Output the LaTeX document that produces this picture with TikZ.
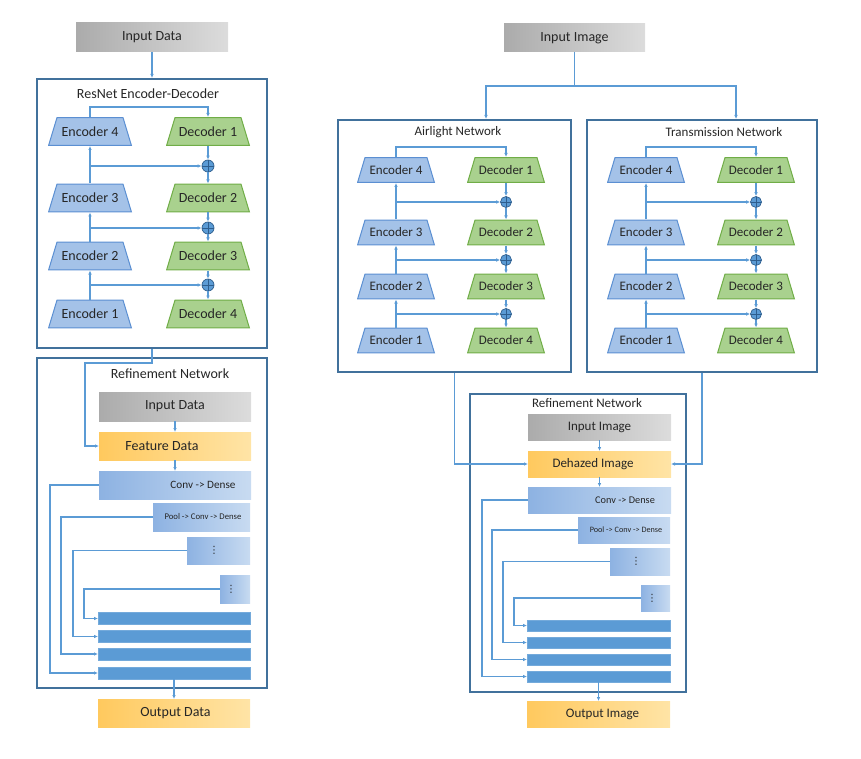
\documentclass[tikz,border=0pt]{standalone}
\usepackage{fontspec}
\setmainfont{Carlito}
\newfontfamily\dejavu{DejaVu Sans}
\usetikzlibrary{arrows.meta}
\definecolor{lineblue}{HTML}{5B9BD5}
\definecolor{framecol}{HTML}{41719C}
\definecolor{encfill}{HTML}{A4C2E8}
\definecolor{encdraw}{HTML}{5B8FD2}
\definecolor{decfill}{HTML}{A9D18E}
\definecolor{decdraw}{HTML}{70AD47}
\definecolor{graydk}{HTML}{ABABAB}
\definecolor{graylt}{HTML}{DCDCDC}
\definecolor{orgdk}{HTML}{FFC95E}
\definecolor{orglt}{HTML}{FFE4A6}
\definecolor{convdk}{HTML}{8DB2E2}
\definecolor{convlt}{HTML}{C8DBF1}
\definecolor{barcol}{HTML}{5B9BD5}
\definecolor{plusfill}{HTML}{5B9BD5}
\definecolor{plusdraw}{HTML}{2E5E8E}
\newcommand\myfL{\fontsize{14}{16}\selectfont}
\newcommand\myfR{\fontsize{13}{15}\selectfont}
\newcommand\myfcL{\fontsize{11.2}{13}\selectfont}
\newcommand\myfcR{\fontsize{10.3}{12}\selectfont}
\newcommand\myfpL{\fontsize{8.7}{10}\selectfont}
\newcommand\myfpR{\fontsize{8.2}{10}\selectfont}
\newcommand\myfd{\dejavu\fontsize{10}{11}\selectfont}
% shift text horizontally inside its node
\newcommand\shr[2]{\hspace*{#1}#2}
\newcommand\shl[2]{#2\hspace*{#1}}
\tikzset{
  conn/.style={draw=lineblue, line width=1.1pt},
  arr/.style={conn, -{Latex[length=4pt,width=3.6pt]}},
  framebox/.style={draw=framecol, line width=2pt, inner sep=0pt},
  sz/.style 2 args={minimum width=#1, minimum height=#2, inner sep=0pt, outer sep=0pt},
  trapbox/.style 2 args={text=black!85, path picture={\filldraw[fill=#1fill, draw=#1draw, line width=1pt]
      ([xshift=#2, yshift=-0.6pt]path picture bounding box.north west) --
      ([xshift=-#2, yshift=-0.6pt]path picture bounding box.north east) --
      ([xshift=-0.6pt, yshift=0.6pt]path picture bounding box.south east) --
      ([xshift=0.6pt, yshift=0.6pt]path picture bounding box.south west) -- cycle;}},
  plusnode/.style={circle, minimum size=#1, inner sep=0pt, fill=plusfill, draw=plusdraw, line width=0.7pt,
      path picture={\draw[plusdraw, line width=0.7pt]
      (path picture bounding box.north) -- (path picture bounding box.south)
      (path picture bounding box.west) -- (path picture bounding box.east);}},
  graybox/.style={shading=axis, left color=graydk, right color=graylt, text=black!85},
  orangebox/.style={shading=axis, left color=orgdk, right color=orglt, text=black!85},
  convbox/.style={shading=axis, left color=convdk, right color=convlt, text=black!85},
  barbox/.style={fill=barcol, draw=barcol!85!white, line width=0.5pt},
}
\begin{document}
\begin{tikzpicture}[x=1pt, y=-1pt]
\useasboundingbox (0,0) rectangle (861,759);

% ================= LEFT =================
\node[graybox, sz={152pt}{29pt}, font=\myfL] (inL) at (152,37.5) {Input Data};
\node[framebox, minimum width=230pt, minimum height=269pt] (resL) at (152,213.5) {};
\node[font=\myfL, text=black!85] (resLt) at (148,94) {ResNet Encoder-Decoder};
\draw[arr] (inL) -- (resL.north);

\foreach \i/\y in {1/314,2/256,3/198,4/131.5}
  \node[sz={84pt}{29pt}, trapbox={enc}{9pt}, font=\myfL] (L-e\i) at (90,\y) {Encoder \i};
\foreach \i/\y in {1/131.5,2/198,3/256,4/314}
  \node[sz={84pt}{29pt}, trapbox={dec}{9pt}, font=\myfL] (L-d\i) at (208,\y) {Decoder \i};
\foreach \i/\y in {1/166,2/228,3/285}
  \node[plusnode=12pt] (L-p\i) at (208,\y) {};

\draw[arr] (L-e1) -- (L-e2);
\draw[arr] (L-e2) -- (L-e3);
\draw[arr] (L-e3) -- (L-e4);
\draw[arr] (L-e4.north) -- ++(0,-10) -| (L-d1.north);
\foreach \i/\j in {1/2,2/3,3/4}{
  \draw[arr] (L-d\i) -- (L-p\i);
  \draw[arr] (L-p\i) -- (L-d\j);
}
\draw[arr] (L-e1.north |- L-p1) -- (L-p1);
\draw[arr] (L-e1.north |- L-p2) -- (L-p2);
\draw[arr] (L-e1.north |- L-p3) -- (L-p3);

% left refinement
\node[framebox, minimum width=230pt, minimum height=330pt] (refL) at (152,523) {};
\node[font=\myfL, text=black!85] (refLt) at (170,374) {Refinement Network};
\node[graybox, sz={152pt}{29pt}, font=\myfL] (inL2) at (175,406.5) {Input Data};
\node[orangebox, sz={152pt}{28pt}, font=\myfL] (featL) at (175,446) {\shl{26pt}{Feature Data}};
\node[convbox, sz={152pt}{28pt}, font=\myfcL] (convL) at (175,485) {\shr{56pt}{Conv -> Dense}};
\node[convbox, sz={97pt}{28pt}, font=\myfpL] (poolL) at (201.5,517) {\shr{3pt}{Pool -> Conv -> Dense}};
\node[convbox, sz={63pt}{27pt}, font=\myfd] (dotsL1) at (218.5,550.5) {\shl{9pt}{⋮}};
\node[convbox, sz={30pt}{28pt}, font=\myfd] (dotsL2) at (235,589) {\shl{8pt}{⋮}};
\node[barbox, sz={152pt}{12pt}] (bL1) at (174,618.5) {};
\node[barbox, sz={152pt}{12pt}] (bL2) at (174,636.5) {};
\node[barbox, sz={152pt}{12pt}] (bL3) at (174,654) {};
\node[barbox, sz={152pt}{12pt}] (bL4) at (174,673) {};
\node[orangebox, sz={152pt}{28pt}, font=\myfL] (outL) at (174,713) {\shr{3pt}{Output Data}};

\draw[arr] (resL.south) -- ++(0,14) -| ([xshift=-14pt]featL.west) -- (featL.west);
\draw[arr] (inL2) -- (featL);
\draw[arr] (featL) -- (convL);
\draw[arr] (convL.west) -- ++(-49,0) |- (bL4.west);
\draw[arr] (poolL.west) -- ++(-92,0) |- (bL3.west);
\draw[arr] (dotsL1.west) -- ++(-114,0) |- (bL2.west);
\draw[arr] (dotsL2.west) -- ++(-136,0) |- (bL1.west);
\draw[arr] (bL4.south) -- (outL.north);

% ================= RIGHT =================
\node[graybox, sz={141pt}{28pt}, font=\myfL] (inR) at (574.5,38) {Input Image};
\node[framebox, minimum width=233pt, minimum height=252pt] (A-fr) at (454.5,246) {};
\node[framebox, minimum width=230pt, minimum height=252pt] (T-fr) at (702,246) {};
\node[font=\myfR, text=black!85] (A-t) at (458,132) {Airlight Network};
\node[font=\myfR, text=black!85] (T-t) at (724,132) {Transmission Network};
\draw[conn] (inR.south) -- ++(0,34) coordinate (jR);
\draw[arr] (jR) -| ([xshift=31.5pt]A-fr.north);
\draw[arr] (jR) -| ([xshift=34pt]T-fr.north);

\foreach \P/\xe/\xd in {A/396/506, T/646/756}{
  \foreach \i/\y in {1/340.5,2/286.5,3/232.5,4/170}
    \node[sz={78pt}{26pt}, trapbox={enc}{8pt}, font=\myfR] (\P-e\i) at (\xe,\y) {Encoder \i};
  \foreach \i/\y in {1/170,2/232.5,3/286.5,4/340.5}
    \node[sz={78pt}{26pt}, trapbox={dec}{8pt}, font=\myfR] (\P-d\i) at (\xd,\y) {Decoder \i};
  \foreach \i/\y in {1/202,2/260,3/314}
    \node[plusnode=11pt] (\P-p\i) at (\xd,\y) {};
  \draw[arr] (\P-e1) -- (\P-e2);
  \draw[arr] (\P-e2) -- (\P-e3);
  \draw[arr] (\P-e3) -- (\P-e4);
  \draw[arr] (\P-e4.north) -- ++(0,-10) -| (\P-d1.north);
  \foreach \i/\j in {1/2,2/3,3/4}{
    \draw[arr] (\P-d\i) -- (\P-p\i);
    \draw[arr] (\P-p\i) -- (\P-d\j);
  }
  \draw[arr] (\P-e1.north |- \P-p1) -- (\P-p1);
  \draw[arr] (\P-e1.north |- \P-p2) -- (\P-p2);
  \draw[arr] (\P-e1.north |- \P-p3) -- (\P-p3);
}

% right refinement
\node[framebox, minimum width=216pt, minimum height=298pt] (refR) at (578,543) {};
\node[font=\myfR, text=black!85] (refRt) at (587,403) {Refinement Network};
\node[graybox, sz={143pt}{26pt}, font=\myfR] (inR2) at (599.5,427) {Input Image};
\node[orangebox, sz={143pt}{26pt}, font=\myfR] (dehz) at (599.5,464) {\shl{13pt}{Dehazed Image}};
\node[convbox, sz={143pt}{26pt}, font=\myfcR] (convR) at (599.5,500) {\shr{51pt}{Conv -> Dense}};
\node[convbox, sz={92pt}{26pt}, font=\myfpR] (poolR) at (624,530) {\shr{4pt}{Pool -> Conv -> Dense}};
\node[convbox, sz={60pt}{27pt}, font=\myfd] (dotsR1) at (640,561.5) {\shl{8pt}{⋮}};
\node[convbox, sz={29pt}{26pt}, font=\myfd] (dotsR2) at (655.5,598) {\shl{7pt}{⋮}};
\node[barbox, sz={143pt}{11pt}] (bR1) at (598.5,625.5) {};
\node[barbox, sz={143pt}{11pt}] (bR2) at (598.5,642.5) {};
\node[barbox, sz={143pt}{11pt}] (bR3) at (598.5,659.5) {};
\node[barbox, sz={143pt}{11pt}] (bR4) at (598.5,676.5) {};
\node[orangebox, sz={143pt}{26pt}, font=\myfR] (outR) at (598.5,714) {\shr{8pt}{Output Image}};

\draw[arr] (A-fr.south) |- (dehz.west);
\draw[arr] (T-fr.south) |- (dehz.east);
\draw[arr] (inR2) -- (dehz);
\draw[arr] (dehz) -- (convR);
\draw[arr] (convR.west) -- ++(-46,0) |- (bR4.west);
\draw[arr] (poolR.west) -- ++(-86,0) |- (bR3.west);
\draw[arr] (dotsR1.west) -- ++(-107,0) |- (bR2.west);
\draw[arr] (dotsR2.west) -- ++(-127,0) |- (bR1.west);
\draw[arr] (bR4.south) -- (outR.north);
\end{tikzpicture}
\end{document}
